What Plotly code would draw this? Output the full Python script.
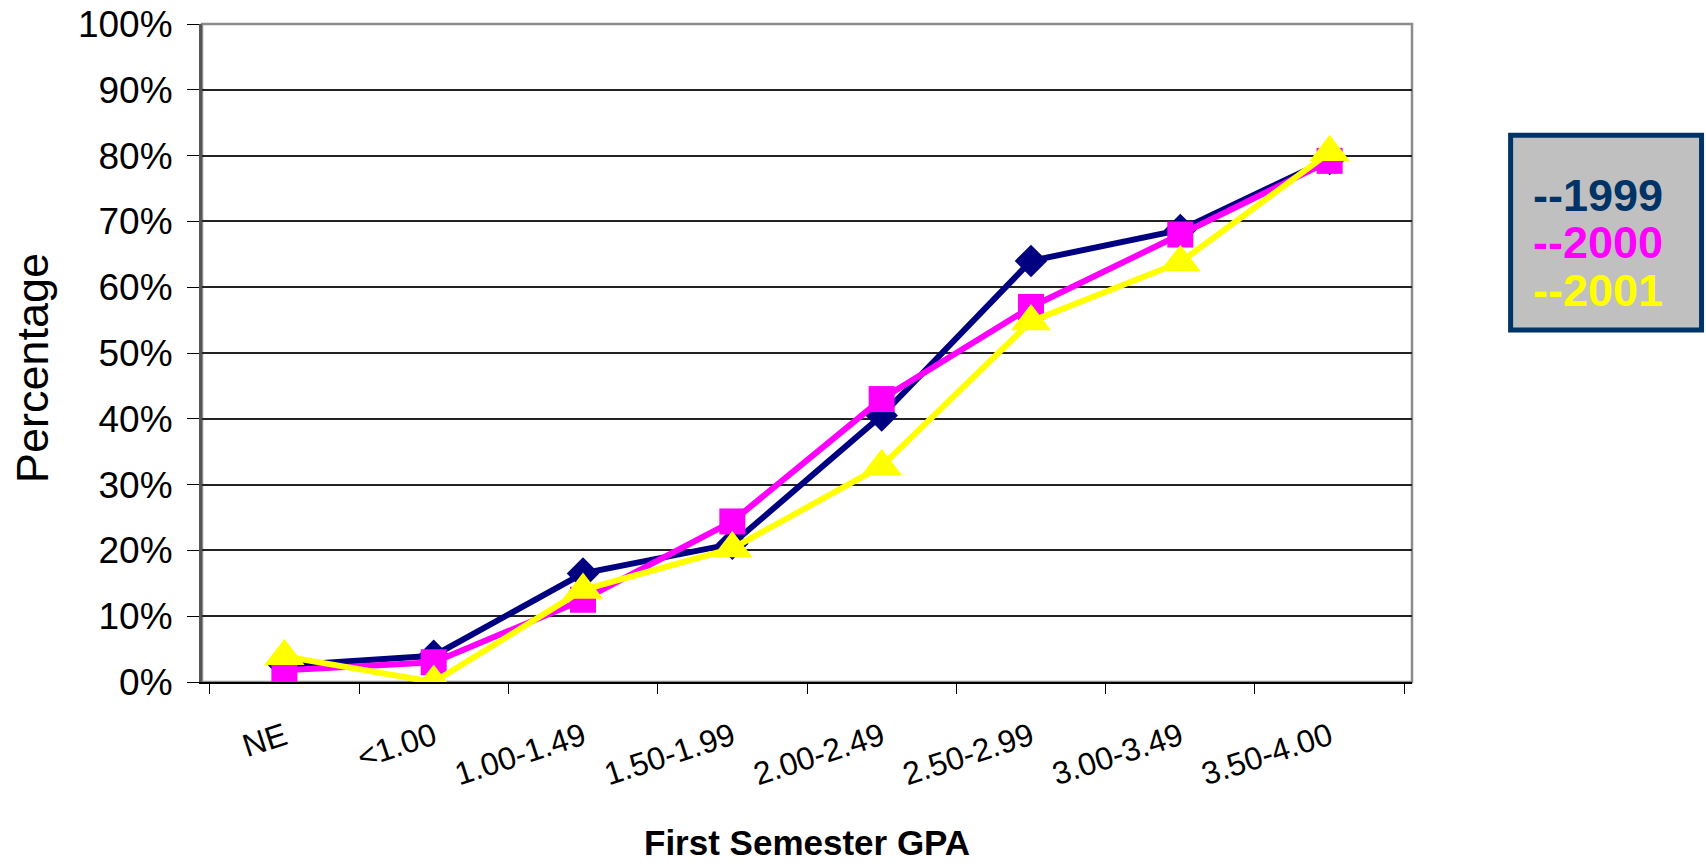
"""First semester GPA vs percentage, 1999-2001 (Plotly)"""

import plotly.graph_objects as go

CATEGORIES = ["NE", "<1.00", "1.00-1.49", "1.50-1.99", "2.00-2.49",
              "2.50-2.99", "3.00-3.49", "3.50-4.00"]

PCT_1999 = [2.5, 4.0, 16.5, 21.0, 40.5, 64.0, 68.7, 79.5]
PCT_2000 = [1.8, 3.0, 12.5, 24.4, 43.0, 57.0, 68.0, 79.2]
PCT_2001 = [3.9, 0.0, 14.0, 20.3, 32.8, 54.8, 63.8, 80.5]

YEARS = ["1999", "2000", "2001"]
Y_TICKS = list(range(0, 101, 10))
Y_TICK_TEXT = [f"{v}%" for v in Y_TICKS]

FONT = "Arial, Liberation Sans, sans-serif"
NAVY = "#000080"
MAGENTA = "#FF00FF"
YELLOW = "#FFFF00"
LEGEND_NAVY = "#003366"

series = [
    (YEARS[0], PCT_1999, NAVY, "diamond", 25),
    (YEARS[1], PCT_2000, MAGENTA, "square", 26),
    (YEARS[2], PCT_2001, YELLOW, "triangle-up", 35),
]

fig = go.Figure()
for name, vals, color, symbol, size in series:
    fig.add_trace(go.Scatter(
        x=CATEGORIES,
        y=vals,
        mode="lines+markers",
        name=name,
        line=dict(color=color, width=6),
        marker=dict(symbol=symbol, size=size, color=color, line=dict(width=0)),
        hovertemplate=f"{name}<br>%{{x}}: %{{y:.1f}}%<extra></extra>",
    ))

# plot-area border (grey top/right edge)
fig.add_shape(type="rect", xref="paper", yref="paper", x0=0, y0=0, x1=1, y1=1,
              line=dict(color="#8C8C8C", width=2.5), layer="below")

# hand-drawn legend box, like the original slide
fig.add_shape(type="rect", xref="paper", yref="paper",
              x0=1.0815, x1=1.2393, y0=0.535, y1=0.831,
              fillcolor="#C0C0C0", line=dict(color=LEGEND_NAVY, width=5))
for i, (name, color) in enumerate(zip(YEARS, [LEGEND_NAVY, MAGENTA, YELLOW])):
    fig.add_annotation(
        xref="paper", yref="paper", x=1.098, y=0.740 - i * 0.0725,
        xanchor="left", yanchor="middle", showarrow=False,
        text=f"<b>--{name}</b>",
        font=dict(family=FONT, size=45, color=color),
    )

# axis titles
fig.add_annotation(
    xref="paper", yref="paper", x=-0.1405, y=0.477,
    xanchor="center", yanchor="middle", showarrow=False, textangle=-90,
    text="Percentage", font=dict(family=FONT, size=45, color="black"),
)
fig.add_annotation(
    xref="paper", yref="paper", x=0.5, y=-0.2766,
    xanchor="center", yanchor="bottom", showarrow=False,
    text="<b>First Semester GPA</b>", font=dict(family=FONT, size=35, color="black"),
)

fig.update_layout(
    width=1706,
    height=864,
    paper_bgcolor="white",
    plot_bgcolor="white",
    showlegend=False,
    margin=dict(l=202, r=294, t=24, b=182, autoexpand=False),
    font=dict(family=FONT, color="black"),
    xaxis=dict(
        type="category",
        automargin=False,
        showgrid=False,
        showline=True,
        linecolor="black",
        linewidth=2,
        ticks="outside",
        tickson="boundaries",
        ticklen=10,
        tickcolor="black",
        tickangle=-18,
        tickfont=dict(size=32, family=FONT),
        ticklabelstandoff=22,
    ),
    yaxis=dict(
        range=[0, 100],
        automargin=False,
        tickvals=Y_TICKS,
        ticktext=Y_TICK_TEXT,
        ticklabeloverflow="allow",
        showgrid=True,
        gridcolor="#222222",
        gridwidth=1.5,
        zeroline=False,
        showline=True,
        linecolor="#555555",
        linewidth=3,
        ticks="outside",
        ticklen=12,
        tickcolor="black",
        tickfont=dict(size=37, family=FONT),
        ticklabelstandoff=7,
    ),
)

# drop the default 8px page margin so the figure fills the window exactly
fig.write_html(
    "out.html",
    config={"displayModeBar": False},
    post_script="document.body.style.margin = '0px';",
)
